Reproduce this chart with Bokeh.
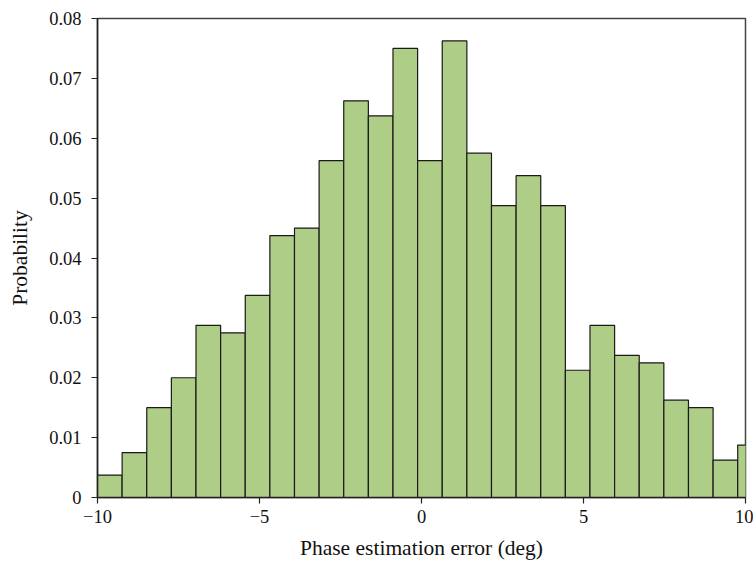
from bokeh.plotting import figure
from bokeh.models import Range1d, FixedTicker, CustomJSTickFormatter
from bokeh.embed import file_html
from bokeh.resources import INLINE

# Histogram bin edges (deg) and probabilities
bin_edges = [-10.0, -9.24, -8.48, -7.72, -6.96, -6.2, -5.44, -4.68, -3.92, -3.16,
             -2.4, -1.64, -0.88, -0.12, 0.64, 1.4, 2.16, 2.92, 3.68, 4.44,
             5.2, 5.96, 6.72, 7.48, 8.24, 9.0, 9.76, 10.52]
probability = [0.00375, 0.0075, 0.015, 0.02, 0.02875, 0.0275, 0.03375, 0.04375,
               0.045, 0.05625, 0.06625, 0.06375, 0.075, 0.05625, 0.07625, 0.0575,
               0.04875, 0.05375, 0.04875, 0.02125, 0.02875, 0.02375, 0.0225,
               0.01625, 0.015, 0.00625, 0.00875]
x_ticks = [-10, -5, 0, 5, 10]
y_ticks = [0, 0.01, 0.02, 0.03, 0.04, 0.05, 0.06, 0.07, 0.08]

FONT = "Liberation Serif"

p = figure(width=753, height=565, output_backend="svg", toolbar_location=None,
           x_range=Range1d(-10, 10), y_range=Range1d(0, 0.08),
           min_border_left=97, min_border_right=8, min_border_top=18,
           min_border_bottom=68)

p.quad(left=bin_edges[:-1], right=bin_edges[1:], bottom=0, top=probability,
       fill_color="#aecd86", line_color="#1a1a1a", line_width=1.2)

p.xgrid.visible = False
p.ygrid.visible = False
p.outline_line_color = "#444444"
p.outline_line_width = 1.5
p.background_fill_color = "white"
p.border_fill_color = "white"

p.xaxis.ticker = FixedTicker(ticks=x_ticks)
p.yaxis.ticker = FixedTicker(ticks=y_ticks)
p.xaxis.formatter = CustomJSTickFormatter(code="return tick < 0 ? '\u2212' + Math.abs(tick) : String(tick);")
p.yaxis.formatter = CustomJSTickFormatter(code="return tick == 0 ? '0' : tick.toFixed(2);")

for ax in (p.xaxis[0], p.yaxis[0]):
    ax.minor_tick_line_color = None
    ax.major_tick_out = 6
    ax.major_tick_in = 0
    ax.axis_line_color = "#222222"
    ax.axis_line_width = 1.5
    ax.major_tick_line_color = "#222222"
    ax.major_tick_line_width = 1.2
    ax.major_label_text_font = FONT
    ax.major_label_text_font_size = "18.5px"
    ax.major_label_text_color = "#111111"
    ax.axis_label_text_font = FONT
    ax.axis_label_text_font_size = "21.5px"
    ax.axis_label_text_font_style = "normal"
    ax.axis_label_text_color = "#111111"

p.xaxis.axis_label = "Phase estimation error (deg)"
p.yaxis.axis_label = "Probability"
p.xaxis.major_label_standoff = 6
p.yaxis.major_label_standoff = 10
p.xaxis.axis_label_standoff = 10
p.yaxis.axis_label_standoff = 14

open("out.html", "w").write(file_html(p, INLINE))
